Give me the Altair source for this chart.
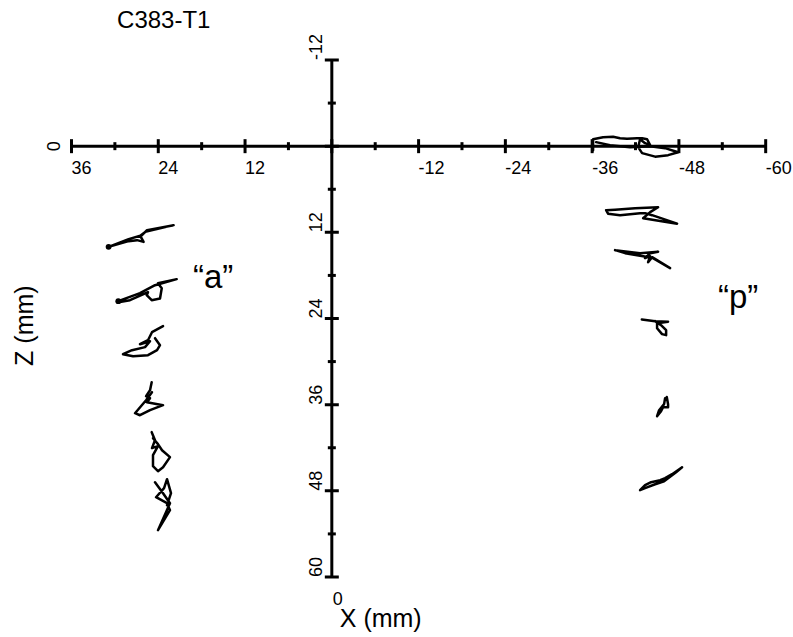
import altair as alt
import pandas as pd

# ---- marker traces in the X–Z plane (mm) ----
# anterior ("a") markers
A1_X = [30.87, 28.10, 26.25, 25.56, 21.88, 25.80, 26.49, 26.03, 26.94, 28.10, 30.87]
A1_Z = [14.02, 12.95, 12.40, 11.70, 11.00, 11.94, 12.49, 13.33, 13.09, 13.23, 14.02]
A2_X = [29.53, 26.53, 24.45, 21.45, 24.04, 23.52, 23.76, 24.91, 25.60, 25.42, 27.91, 29.53]
A2_Z = [21.59, 20.47, 19.36, 18.52, 19.08, 19.78, 21.21, 21.45, 20.75, 20.33, 21.45, 21.73]
A3_X = [23.34, 24.87, 25.42, 26.53, 25.14, 25.83, 27.63, 28.88, 27.49, 25.42, 24.17, 23.76, 24.45]
A3_Z = [25.07, 25.91, 27.02, 27.58, 27.16, 27.99, 28.41, 28.97, 29.25, 29.11, 28.41, 27.72, 26.74]
A4_X = [24.91, 25.14, 25.69, 25.14, 25.56, 23.34, 25.14, 26.53, 27.22, 25.69, 24.87]
A4_Z = [32.87, 33.98, 34.82, 35.10, 35.65, 36.07, 36.77, 37.47, 37.19, 35.38, 34.26]
A5_X = [24.91, 24.45, 24.87, 24.04, 24.73, 24.73, 24.04, 23.34, 22.38, 23.48, 24.04, 24.73]
A5_Z = [39.83, 40.95, 42.06, 41.78, 43.04, 44.57, 45.26, 44.71, 43.31, 42.34, 41.50, 40.67]
A6_X = [24.45, 23.34, 22.38, 22.93, 24.04, 22.38, 22.79, 24.31, 23.20, 22.79, 22.24, 22.79]
A6_Z = [46.80, 48.33, 49.72, 50.97, 53.48, 50.70, 49.72, 48.89, 47.63, 46.38, 48.33, 50.00]

# posterior ("p") markers
P0_X = [-36.13, -36.13, -37.51, -38.90, -39.86, -40.83, -42.22, -42.91, -43.60, -44.02, -43.32,
        -42.63, -42.36, -42.91, -44.71, -46.51, -47.89, -46.09, -44.02, -41.25, -38.48, -36.55]
P0_Z = [0.56, -0.97, -1.25, -1.32, -1.11, -1.04, -1.11, -1.11, -0.97, -0.14, -0.42,
        -0.97, 0.14, 0.97, 1.46, 1.25, 0.84, 0.28, 0.00, 0.14, -0.14, -0.56]
P1_X = [-42.63, -39.86, -38.20, -37.93, -39.17, -41.94, -45.12, -44.02, -43.05, -47.75, -44.29, -43.32, -42.63]
P1_Z = [9.33, 9.61, 9.40, 8.91, 8.84, 8.64, 8.50, 9.19, 10.03, 10.79, 9.61, 9.33, 9.33]
P2_X = [-39.17, -42.63, -45.12, -44.02, -43.32, -44.02, -43.74, -44.29, -46.78, -44.29, -43.05, -40.56, -39.17]
P2_Z = [14.48, 14.90, 14.69, 14.90, 15.60, 15.32, 16.16, 15.46, 16.99, 15.53, 15.32, 14.90, 14.48]
P3_X = [-42.87, -44.71, -46.50, -44.98, -44.98, -45.67, -46.23, -46.23, -45.53, -44.71]
P3_Z = [24.14, 24.37, 24.44, 24.65, 25.35, 26.18, 26.32, 25.63, 24.93, 24.37]
P4_X = [-46.32, -46.50, -46.50, -45.81, -45.53, -44.98, -45.26, -45.95, -46.09]
P4_Z = [34.92, 35.93, 36.35, 36.35, 36.91, 37.60, 36.77, 35.93, 35.10]
P5_X = [-42.63, -43.32, -44.15, -45.40, -46.09, -47.06, -48.44, -47.61, -45.95, -44.71, -43.32, -42.63]
P5_Z = [47.91, 47.21, 46.80, 46.52, 46.24, 45.68, 44.71, 45.40, 46.66, 47.08, 47.63, 47.91]

# ---- axis layout ----
X_RANGE = [-60, 36]
Z_RANGE = [-12, 60]
X_MAJOR = [36, 24, 12, 0, -12, -24, -36, -48, -60]
X_MINOR = [30, 18, 6, -6, -18, -30, -42, -54]
Z_MAJOR = [-12, 0, 12, 24, 36, 48, 60]
Z_MINOR = [-6, 6, 18, 30, 42, 54]
X_LABELS = [36, 24, 12, -12, -24, -36, -48, -60]
Z_LABELS = [-12, 12, 24, 36, 48, 60]

# ---- annotations (data units) ----
TITLE = {"text": "C383-T1", "x": 29.7, "z": -16.4}
GROUP_LABELS = {"text": ["\u201ca\u201d", "\u201cp\u201d"], "x": [19.2, -53.4], "z": [19.8, 22.6]}

FONT = "Liberation Sans"

traces = [
    ("a1", A1_X, A1_Z), ("a2", A2_X, A2_Z), ("a3", A3_X, A3_Z),
    ("a4", A4_X, A4_Z), ("a5", A5_X, A5_Z), ("a6", A6_X, A6_Z),
    ("p0", P0_X, P0_Z), ("p1", P1_X, P1_Z), ("p2", P2_X, P2_Z),
    ("p3", P3_X, P3_Z), ("p4", P4_X, P4_Z), ("p5", P5_X, P5_Z),
]
rows = []
for name, xs_, zs_ in traces:
    for i, (xv, zv) in enumerate(zip(xs_, zs_)):
        rows.append({"trace": name, "i": i, "x": xv, "z": zv})
trace_df = pd.DataFrame(rows)
start_df = pd.DataFrame({"x": [A1_X[0], A2_X[0]], "z": [A1_Z[0], A2_Z[0]]})

xs = alt.Scale(domain=X_RANGE, reverse=True, nice=False, zero=False)
zs = alt.Scale(domain=Z_RANGE, reverse=True, nice=False, zero=False)


def X(field):
    return alt.X(field, type="quantitative", scale=xs, axis=None)


def Z(field):
    return alt.Y(field, type="quantitative", scale=zs, axis=None)


# marker paths
paths = alt.Chart(trace_df).mark_line(
    color="black", strokeWidth=2.5, strokeJoin="round", strokeCap="round"
).encode(x=X("x"), y=Z("z"), detail="trace:N", order="i:Q")

starts = alt.Chart(start_df).mark_circle(color="black", size=34, opacity=1).encode(
    x=X("x"), y=Z("z")
)

# axes crossing at the origin
x_line = alt.Chart(pd.DataFrame({"a": [X_RANGE[1]], "b": [X_RANGE[0]], "z": [0]})).mark_rule(
    color="black", strokeWidth=3
).encode(x=X("a"), x2="b", y=Z("z"))
z_line = alt.Chart(pd.DataFrame({"x": [0], "a": [Z_RANGE[0]], "b": [Z_RANGE[1]]})).mark_rule(
    color="black", strokeWidth=3
).encode(x=X("x"), y=Z("a"), y2="b")

x_major = alt.Chart(pd.DataFrame({"x": X_MAJOR, "z": 0})).mark_tick(
    orient="vertical", size=14, thickness=3, color="black", opacity=1
).encode(x=X("x"), y=Z("z"))
x_minor = alt.Chart(pd.DataFrame({"x": X_MINOR, "z": 0})).mark_tick(
    orient="vertical", size=8, thickness=3, color="black", opacity=1
).encode(x=X("x"), y=Z("z"))
z_major = alt.Chart(pd.DataFrame({"x": 0, "z": Z_MAJOR})).mark_tick(
    orient="horizontal", size=14, thickness=3, color="black", opacity=1
).encode(x=X("x"), y=Z("z"))
z_minor = alt.Chart(pd.DataFrame({"x": 0, "z": Z_MINOR})).mark_tick(
    orient="horizontal", size=8, thickness=3, color="black", opacity=1
).encode(x=X("x"), y=Z("z"))

# tick labels (plain hyphen-minus, as printed)
x_lab_df = pd.DataFrame({"x": X_LABELS, "z": 0, "t": [str(v) for v in X_LABELS]})
z_lab_df = pd.DataFrame({"x": 0, "z": Z_LABELS, "t": [str(v) for v in Z_LABELS]})
x_lab = alt.Chart(x_lab_df).mark_text(
    font=FONT, fontSize=18, align="left", baseline="alphabetic", dx=0, dy=28, color="black"
).encode(x=X("x"), y=Z("z"), text="t:N")
z_lab = alt.Chart(z_lab_df).mark_text(
    font=FONT, fontSize=18, align="left", baseline="alphabetic", angle=270, dy=-10, color="black"
).encode(x=X("x"), y=Z("z"), text="t:N")
z_zero = alt.Chart(pd.DataFrame({"x": [X_RANGE[1]], "z": [0], "t": ["0"]})).mark_text(
    font=FONT, fontSize=18, align="center", baseline="alphabetic", angle=270, dy=-11, color="black"
).encode(x=X("x"), y=Z("z"), text="t:N")
x_zero = alt.Chart(pd.DataFrame({"x": [0], "z": [Z_RANGE[1]], "t": ["0"]})).mark_text(
    font=FONT, fontSize=18, align="left", baseline="alphabetic", dx=1, dy=28, color="black"
).encode(x=X("x"), y=Z("z"), text="t:N")

# axis titles
x_title = alt.Chart(pd.DataFrame({"x": [-1.1], "z": [67.0], "t": ["X (mm)"]})).mark_text(
    font=FONT, fontSize=25, align="left", baseline="alphabetic", color="black"
).encode(x=X("x"), y=Z("z"), text="t:N")
z_title = alt.Chart(pd.DataFrame({"x": [41.3], "z": [30.6], "t": ["Z (mm)"]})).mark_text(
    font=FONT, fontSize=25, align="left", baseline="alphabetic", angle=270, color="black"
).encode(x=X("x"), y=Z("z"), text="t:N")

title = alt.Chart(pd.DataFrame({"x": [TITLE["x"]], "z": [TITLE["z"]], "t": [TITLE["text"]]})).mark_text(
    font=FONT, fontSize=24, align="left", baseline="alphabetic", color="black"
).encode(x=X("x"), y=Z("z"), text="t:N")

groups = alt.Chart(pd.DataFrame({"x": GROUP_LABELS["x"], "z": GROUP_LABELS["z"], "t": GROUP_LABELS["text"]})).mark_text(
    font=FONT, fontSize=33, align="left", baseline="alphabetic", color="black"
).encode(x=X("x"), y=Z("z"), text="t:N")

chart = alt.layer(
    x_line, z_line, x_major, x_minor, z_major, z_minor,
    x_lab, z_lab, z_zero, x_zero, x_title, z_title, title, groups,
    paths, starts,
).properties(
    width=694.2,
    height=517,
    padding={"left": 71.5, "top": 60, "right": 27, "bottom": 60},
    autosize=alt.AutoSizeParams(type="none"),
    background="white",
).configure_view(stroke=None)

chart.save("out.html", embed_options={"renderer": "svg", "actions": False})
